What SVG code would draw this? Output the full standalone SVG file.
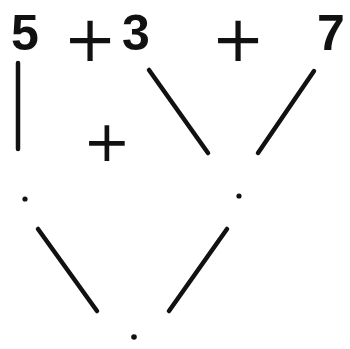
<svg xmlns="http://www.w3.org/2000/svg" width="350" height="349" viewBox="0 0 350 349">
<style>
.num{font-family:"Liberation Sans",Arial,sans-serif;font-weight:bold;font-size:50px;fill:#111;text-anchor:middle}
.op{font-family:"DejaVu Sans",sans-serif;font-size:64px;fill:#111;text-anchor:middle}
.edge{stroke:#111;stroke-width:4.5;stroke-linecap:round;fill:none}
.dot{fill:#111}
</style>
<rect width="350" height="349" fill="#fff"/>
<g id="n5"><text class="num" x="25" y="50">5</text></g>
<g id="op1"><text class="op" x="90" y="61">+</text></g>
<g id="n3"><text class="num" x="136" y="50">3</text></g>
<g id="op2"><text class="op" x="238" y="61">+</text></g>
<g id="n7"><text class="num" x="331" y="50">7</text></g>
<g id="op3"><text class="op" x="107" y="161" style="font-size:57px">+</text></g>
<g id="d1"><circle class="dot" cx="25" cy="199" r="2.6"/></g>
<g id="d2"><circle class="dot" cx="239" cy="196" r="2.6"/></g>
<g id="d3"><circle class="dot" cx="134" cy="337" r="2.8"/></g>
<g id="connectors">
<line class="edge" x1="18" y1="63" x2="18" y2="149"/>
<line class="edge" x1="149" y1="70" x2="208" y2="153"/>
<line class="edge" x1="314" y1="71" x2="258" y2="153"/>
<line class="edge" x1="38" y1="229" x2="97" y2="311"/>
<line class="edge" x1="227" y1="229" x2="169" y2="311"/>
</g>
</svg>
